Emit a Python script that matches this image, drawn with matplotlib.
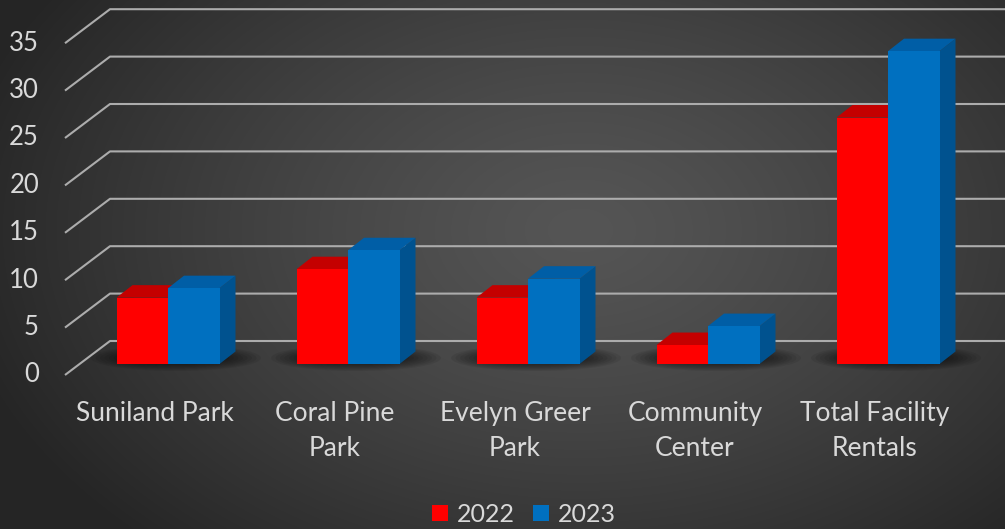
import numpy as np
import matplotlib
matplotlib.use("Agg")
import matplotlib.pyplot as plt
from matplotlib.patches import Polygon, Ellipse, Patch

# ---- data ----
categories = ["Suniland Park", "Coral Pine\nPark", "Evelyn Greer\nPark",
              "Community\nCenter", "Total Facility\nRentals"]
v2022 = [7, 10, 7, 2, 26]
v2023 = [8, 12, 9, 4, 33]
series_labels = ["2022", "2023"]
yticks = [0, 5, 10, 15, 20, 25, 30, 35]

# ---- style ----
W, H = 1005, 529
txt_color = "#d9d9d9"
grid_color = "#acacac"
red_front, red_top, red_side = "#ff0000", "#c40000", "#b00000"
blue_front, blue_top, blue_side = "#0070c0", "#005ea6", "#00528f"
font = "Lato"

fig = plt.figure(figsize=(W / 100, H / 100), dpi=100)

# background radial gradient
bg = fig.add_axes([0, 0, 1, 1], zorder=-10)
yy, xx = np.mgrid[0:H, 0:W]
cx, cy = 580, 230
r = np.sqrt(((xx - cx) / 640.0) ** 2 + ((yy - cy) / 430.0) ** 2)
r = np.clip(r, 0, 1)
inner = np.array([0x55, 0x55, 0x55]) / 255
outer = np.array([0x25, 0x25, 0x25]) / 255
img = inner[None, None, :] * (1 - r[..., None] ** 1.3) + outer[None, None, :] * (r[..., None] ** 1.3)
bg.imshow(img, extent=[0, W, H, 0], aspect="auto", interpolation="bilinear")
bg.set_axis_off()

# main axes: x in category units (180 px each), y in value units (9.48 px each)
px_x = 180.0
px_y = 9.48
x_center0 = 168.0  # pixel of first category center
y_zero = 364.0     # pixel of value 0 at bar front
ax = fig.add_axes([0, 0, 1, 1])
ax.set_xlim((0 - x_center0) / px_x, (W - x_center0) / px_x)
ax.set_ylim((y_zero - H) / px_y, (y_zero - 0) / px_y)
ax.set_axis_off()
ax.patch.set_alpha(0)

def dx(p):
    return p / px_x

def dy(p):
    return p / px_y

# gridlines: front-left edge and back wall
front_x, back_x = dx(65 - x_center0), dx(110 - x_center0)
front_off, back_off = -dy(11), dy(23)
for v in yticks:
    ax.plot([front_x, back_x, (W + 20 - x_center0) / px_x],
            [v + front_off, v + back_off, v + back_off],
            color=grid_color, lw=1.5, solid_capstyle="butt", zorder=1)
    ax.text(dx(39 - x_center0), v + front_off, str(v), ha="right", va="center",
            color=txt_color, fontsize=18.5, family=font, zorder=5)

# bars
bw = dx(51.5)
ddx, ddy = dx(16), dy(12.5)
xs = np.arange(len(categories))

def draw_bar(x0, v, front, top, side, z):
    x1 = x0 + bw
    ax.add_patch(Polygon([(x1, 0), (x1, v), (x1 + ddx, v + ddy), (x1 + ddx, ddy)],
                         closed=True, facecolor=side, edgecolor="none", zorder=z))
    ax.add_patch(Polygon([(x0, v), (x1, v), (x1 + ddx, v + ddy), (x0 + ddx, v + ddy)],
                         closed=True, facecolor=top, edgecolor="none", zorder=z))
    ax.add_patch(Polygon([(x0, 0), (x1, 0), (x1, v), (x0, v)],
                         closed=True, facecolor=front, edgecolor="none", zorder=z + 0.1))

for i in xs:
    # soft shadow on floor
    for k in range(10):
        ax.add_patch(Ellipse((i + dx(8), dy(6)), dx(170 - 9 * k), dy(26 - 2 * k),
                             facecolor="black", edgecolor="none", alpha=0.07, zorder=2))
    draw_bar(i - bw, v2022[i], red_front, red_top, red_side, 3)
    draw_bar(i, v2023[i], blue_front, blue_top, blue_side, 3.5)

# category labels
for i, c in zip(xs, categories):
    ax.text(i - dx(13), dy(y_zero - 401), c, ha="center", va="top",
            color=txt_color, fontsize=19, family=font, linespacing=1.5,
            multialignment="center", zorder=5)

# legend
handles = [Patch(facecolor=red_front, edgecolor="none"),
           Patch(facecolor=blue_front, edgecolor="none")]
leg = fig.legend(handles, series_labels, loc="center",
                 bbox_to_anchor=(524 / W, 1 - 514 / H), ncol=2, frameon=False,
                 prop={"family": font, "size": 18}, labelcolor=txt_color,
                 handlelength=0.62, handleheight=0.62, handletextpad=0.35,
                 columnspacing=0.75, borderpad=0)

fig.savefig("out.png", dpi=100)
